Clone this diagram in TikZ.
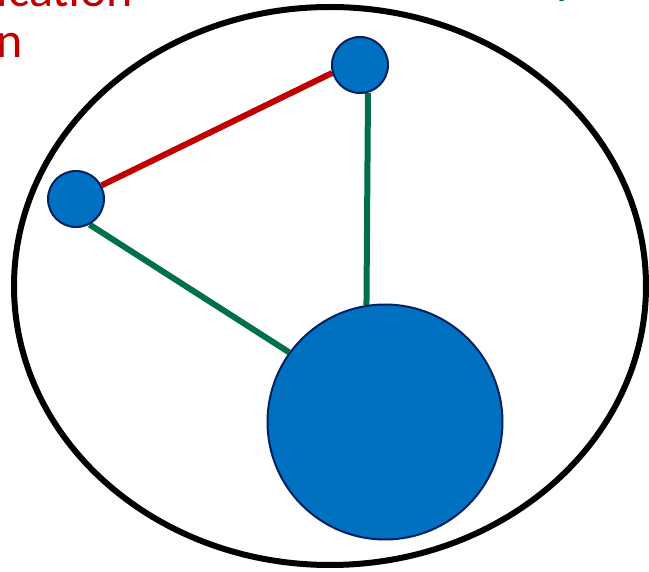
\documentclass[tikz,border=0pt]{standalone}
\usepackage{fontspec}
\setmainfont{Carlito}
\definecolor{nodeblue}{HTML}{0070C0}
\definecolor{nodeedge}{HTML}{002060}
\definecolor{redline}{HTML}{C00000}
\definecolor{greenline}{HTML}{00704A}
\tikzset{
  bubble/.style={circle, fill=nodeblue, draw=nodeedge, line width=2pt, inner sep=0pt},
  redlink/.style={draw=redline, line width=6pt},
  greenlink/.style={draw=greenline, line width=6pt},
  lbl/.style={inner sep=0pt, outer sep=0pt, anchor=base west, font=\fontsize{50}{50}\selectfont}
}
\begin{document}
\begin{tikzpicture}[x=1pt,y=-1pt]
\useasboundingbox (0,0) rectangle (649,572);
\draw[line width=6pt] (330,286) ellipse [x radius=316, y radius=279];
\node[lbl, text=redline] (red1) at (-3,7) {ication};
\node[lbl, text=redline] (red2) at (-3,58) {n};
\node[lbl, text=greenline] (green1) at (556,-6) {p};
% positions of the circles, defined first so the links can be drawn beneath them
\path (76,199) node[bubble, minimum size=56pt, fill=none, draw=none] (a0) {};
\path (360,65) node[bubble, minimum size=56pt, fill=none, draw=none] (b0) {};
\path (385,422) node[bubble, minimum size=235pt, fill=none, draw=none] (c0) {};
\path[redlink] (a0.28) -- (b0.-164);
\path[greenlink] (b0.-74) -- (c0.99);
\path[greenlink] (a0.-62) -- (c0.144);
\node[bubble, minimum size=56pt] (a) at (a0) {};
\node[bubble, minimum size=56pt] (b) at (b0) {};
\node[bubble, minimum size=235pt] (c) at (c0) {};
\end{tikzpicture}
\end{document}
